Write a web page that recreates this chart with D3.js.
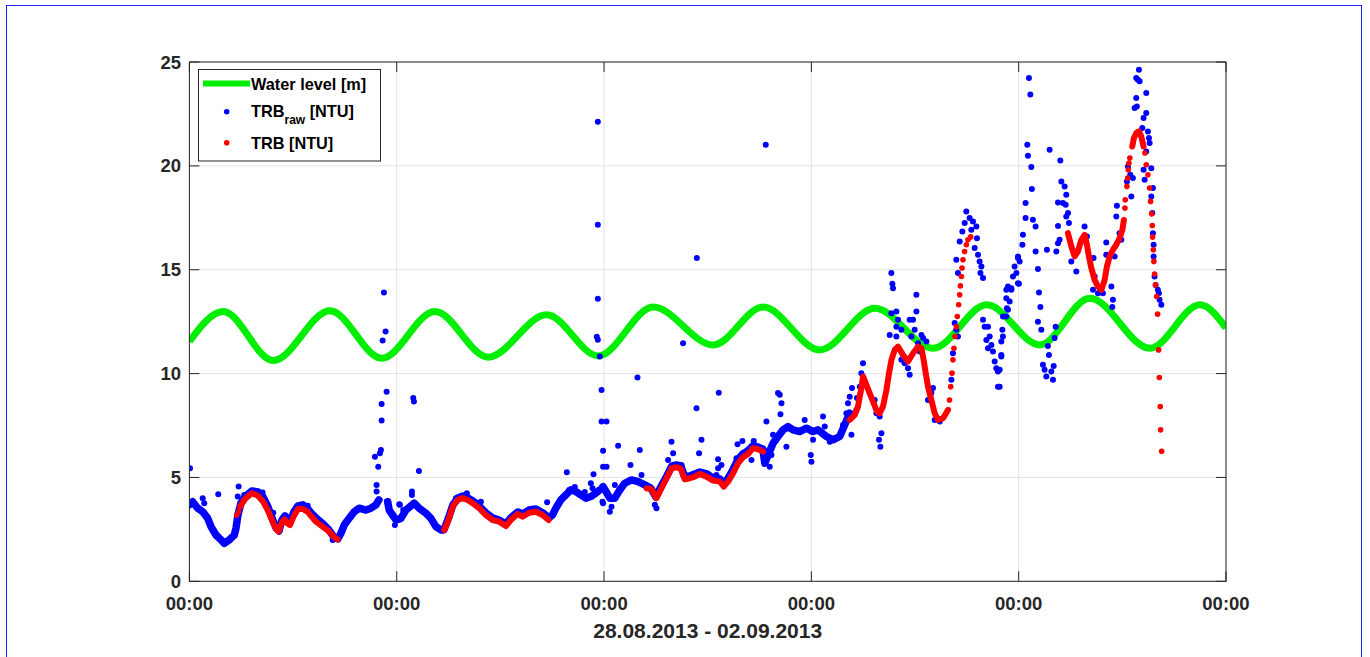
<!DOCTYPE html>
<html>
<head>
<meta charset="utf-8">
<script src="https://cdn.jsdelivr.net/npm/d3@7"></script>
<style>
  body { margin: 0; background: #fff; }
  svg { display: block; }
  text { font-family: "Liberation Sans", Arial, Helvetica, sans-serif; font-weight: bold; fill: #262626; }
</style>
</head>
<body>
<svg id="canvas" width="1370" height="657"></svg>
<script>
// all times are hours after 28.08.2013 00:00
const startDate = new Date(2013, 7, 28);
const endDate = new Date(2013, 8, 2);
const yTicks = [0, 5, 10, 15, 20, 25];
const xTitle = '28.08.2013 - 02.09.2013';

// water level [m], turning points of the tide curve
const waterLevel = [
    [0, 11.55], [3.92, 12.99], [9.71, 10.63], [16.27, 13.03], [22.26, 10.74], [28.43, 12.99],
    [34.59, 10.79], [41.35, 12.83], [47.33, 10.85], [53.69, 13.2], [60.64, 11.38], [66.42, 13.2],
    [72.99, 11.14], [79.35, 13.14], [86.1, 11.22], [92.31, 13.31], [98.45, 11.38], [104.24, 13.63],
    [111.19, 11.22], [116.99, 13.31], [120, 12.2]
];

// TRB raw, dense stretches
const rawTraceA = [
    [0, 3.68], [0.38, 3.83], [0.96, 3.52], [1.54, 3.35], [2.12, 3.03], [2.5, 2.63], [3.08, 2.23], [3.66, 1.99],
    [4.04, 1.83], [4.62, 1.99], [5.2, 2.23], [5.39, 2.55], [5.62, 3.19], [5.97, 3.77], [6.55, 4.11], [7.24, 4.35],
    [7.94, 4.3], [8.52, 4.06], [9.1, 3.58], [9.56, 3.05], [10.03, 2.57], [10.37, 2.42], [10.72, 2.95], [11.06, 3.15],
    [11.64, 2.86], [12.1, 3.34], [12.57, 3.63], [13.15, 3.68], [13.72, 3.48], [14.19, 3.24], [14.77, 3.0], [15.46, 2.76],
    [16.15, 2.47], [16.73, 2.13], [17.19, 2.04], [17.54, 2.31], [17.92, 2.71], [18.5, 3.03], [19.08, 3.35], [19.66, 3.52],
    [20.43, 3.43], [21.01, 3.52], [21.59, 3.68], [21.94, 3.92]
];
const rawTraceB = [
    [22.95, 3.83], [23.13, 3.43], [23.52, 3.19], [23.91, 2.95], [24.49, 3.03], [25.06, 3.43], [26.02, 3.76], [26.6, 3.52],
    [27.38, 3.28], [27.96, 3.03], [28.54, 2.63], [29.11, 2.47], [29.46, 2.47], [30.04, 3.1], [30.5, 3.68], [31.08, 4.01],
    [31.66, 4.11], [32.24, 4.01], [32.82, 3.87], [33.52, 3.63], [34.33, 3.29], [35.14, 3.05], [35.83, 2.95], [36.64, 2.76],
    [37.21, 3.05], [38.02, 3.34], [38.6, 3.24], [39.3, 3.43], [40.11, 3.48], [40.92, 3.29], [41.61, 3.05], [42.04, 3.2],
    [42.42, 3.52], [43.0, 3.92], [43.58, 4.16], [44.16, 4.4], [44.74, 4.32], [45.31, 4.16], [45.89, 4.0], [46.47, 4.08],
    [47.05, 4.24], [47.51, 4.4]
];
const rawTraceC = [
    [47.89, 4.56], [48.67, 4.0], [49.25, 4.0], [49.82, 4.4], [50.4, 4.72], [51.18, 4.88], [51.94, 4.8], [52.72, 4.64],
    [53.41, 4.49], [53.99, 4.06], [54.57, 4.54], [55.27, 5.07], [55.85, 5.55], [56.42, 5.6], [56.89, 5.55], [57.35, 5.02],
    [57.93, 5.07], [58.51, 5.17], [59.09, 5.26], [59.9, 5.17], [60.59, 4.98], [61.4, 4.93], [61.86, 4.69], [62.32, 4.93],
    [62.9, 5.36], [63.48, 5.84], [64.06, 6.13], [64.64, 6.28], [65.22, 6.52], [65.8, 6.47], [66.38, 6.37], [66.61, 5.68],
    [66.99, 6.08], [67.57, 6.65], [68.14, 6.97], [68.72, 7.29], [69.3, 7.45], [69.88, 7.29], [70.65, 7.21], [71.43, 7.37],
    [72.19, 7.21], [72.77, 7.29], [73.74, 6.97], [74.51, 6.81], [75.28, 6.97], [75.86, 7.53], [76.44, 8.09]
];

// TRB raw, single readings
const rawPoints = [
    [0.07, 5.44], [3.34, 4.19], [1.54, 4.0], [1.72, 3.76], [5.7, 4.56], [5.59, 4.08], [6.35, 4.16], [8.48, 4.27],
    [9.71, 3.3], [10.98, 2.95], [12.91, 3.68], [13.69, 3.64], [15.03, 2.87], [16.58, 1.99],
    [21.67, 4.64], [21.67, 4.32], [21.86, 5.52], [21.48, 6.0], [22.05, 6.17], [22.17, 6.32], [22.25, 7.74], [22.25, 8.53],
    [22.83, 9.13], [22.52, 13.9], [22.71, 12.02], [22.37, 11.59],
    [23.02, 3.83], [23.59, 3.19], [23.79, 2.71], [24.17, 2.95], [24.37, 3.68], [24.75, 3.43], [25.91, 8.82], [25.99, 8.65],
    [26.57, 5.31], [25.76, 4.32], [25.76, 4.16], [24.29, 3.71], [32.12, 4.24], [33.74, 3.83], [30.85, 4.0], [41.41, 3.81],
    [43.69, 5.25], [43.96, 4.4], [46.78, 5.15], [46.47, 4.72], [46.67, 4.48], [47.71, 4.48], [47.89, 6.28], [47.89, 5.52],
    [47.82, 3.83], [44.62, 4.54], [45.77, 4.3],
    [47.28, 22.12], [47.28, 17.16], [47.28, 13.6], [47.16, 11.77], [47.28, 11.63], [47.51, 10.82], [47.71, 9.21], [47.71, 7.69],
    [48.29, 7.69], [48.29, 5.52], [49.63, 6.53], [51.87, 9.81], [52.14, 6.32], [51.06, 5.6], [57.15, 11.46], [58.7, 8.33],
    [61.28, 9.08], [59.28, 6.81], [59.0, 6.17], [55.81, 6.72], [56.0, 6.17], [63.45, 6.6], [64.02, 6.76], [58.74, 15.57],
    [66.72, 21.02], [68.14, 9.06], [68.34, 8.98], [68.54, 8.57], [68.42, 8.04], [66.8, 7.69], [52.34, 5.12], [55.41, 5.84],
    [61.2, 5.88], [65.33, 6.76], [71.23, 7.77], [72.01, 5.76], [71.93, 6.08], [69.11, 6.48], [67.56, 7.05], [72.19, 6.81],
    [47.89, 3.76], [48.67, 3.35], [49.25, 4.64], [48.87, 3.59], [54.07, 3.52], [53.88, 3.68], [56.96, 5.6], [61.01, 5.12],
    [61.2, 5.44], [61.59, 5.6], [63.33, 5.92], [65.07, 5.84], [67.18, 5.52], [66.8, 6.24], [67.38, 6.08],
    [73.35, 7.93], [73.55, 7.45], [74.13, 6.72], [74.7, 6.89], [75.66, 7.53], [76.06, 8.09], [76.24, 8.57], [76.44, 8.89],
    [76.71, 9.3], [76.64, 7.05], [77.21, 8.25], [77.28, 8.82], [77.6, 9.37], [77.79, 10.02], [77.98, 10.5], [79.33, 8.73],
    [79.53, 8.09], [79.91, 7.93], [80.11, 7.13], [79.83, 6.81], [79.99, 6.48], [81.26, 14.84], [81.38, 14.32], [81.45, 14.11],
    [81.26, 12.91], [81.84, 12.99], [82.03, 12.59], [81.84, 12.26], [81.07, 11.86], [81.84, 11.78], [82.42, 12.11], [82.42, 10.66],
    [82.8, 10.5], [83.19, 10.26], [83.38, 9.94], [83.38, 12.59], [83.77, 12.59], [83.96, 12.11], [84.16, 12.99], [84.16, 13.79],
    [84.74, 11.86], [84.93, 11.71], [85.32, 11.54], [84.35, 11.46], [84.55, 11.06], [83.58, 11.78], [85.5, 8.73], [85.89, 9.06],
    [86.08, 9.3], [86.28, 7.77], [86.86, 7.69], [88.21, 9.7], [88.39, 10.98], [88.59, 12.43], [88.78, 12.11], [88.97, 11.78],
    [88.78, 15.48], [88.97, 14.84], [89.17, 16.36], [89.48, 16.84], [89.75, 17.25], [89.94, 17.8], [90.32, 17.49], [90.52, 16.92],
    [90.71, 17.32], [91.1, 17.08], [91.17, 16.52], [90.9, 16.04], [91.29, 15.72], [91.48, 15.4], [91.68, 15.15], [91.87, 14.6],
    [91.57, 14.84], [91.87, 12.59], [92.06, 12.26], [92.45, 12.26], [92.26, 11.62], [92.64, 11.78], [92.84, 11.38], [92.45, 11.22],
    [93.02, 11.06], [93.22, 10.58], [93.41, 10.26], [93.6, 10.1], [93.8, 10.18], [93.6, 9.37], [93.99, 10.9], [94.18, 11.78],
    [94.57, 12.75], [94.76, 13.07], [94.57, 13.63], [94.76, 14.19], [95.15, 14.11], [95.34, 14.67], [95.53, 15.15], [95.92, 15.56],
    [95.92, 14.35],
    [97.19, 24.23], [97.35, 23.43], [97.0, 21.02], [97.07, 20.49], [97.46, 19.94], [97.53, 18.88], [96.8, 18.21], [96.8, 17.49],
    [97.65, 17.4], [97.96, 17.08], [96.49, 16.68], [96.43, 16.2], [95.92, 15.64], [96.11, 15.4], [95.73, 14.84], [96.03, 14.32],
    [95.15, 14.03], [94.57, 14.03], [94.95, 13.47], [94.64, 13.15], [94.18, 12.75], [94.11, 12.11], [93.99, 11.54], [93.99, 10.82],
    [93.8, 9.37], [97.96, 15.88], [98.23, 15.03], [98.35, 13.9], [98.51, 13.2], [98.23, 12.5], [98.62, 12.11], [99.38, 11.33],
    [99.5, 10.9], [98.81, 10.42], [99.0, 10.18], [99.2, 9.86], [99.78, 10.1], [99.97, 9.7], [100.05, 10.37], [100.28, 12.26],
    [100.16, 11.71], [99.27, 15.96], [99.58, 20.78], [100.82, 20.26], [100.94, 19.25], [101.32, 19.01], [101.51, 18.61], [100.55, 18.24],
    [101.13, 18.21], [101.44, 18.13], [101.71, 17.73], [101.51, 17.56], [101.82, 17.25], [100.55, 17.11], [100.74, 16.44], [100.36, 15.88],
    [100.55, 16.28], [102.09, 15.4], [102.67, 14.91], [103.63, 17.08], [103.9, 16.6], [104.67, 15.56], [104.79, 14.67], [104.6, 14.03],
    [105.18, 13.87], [105.75, 13.87], [106.14, 16.31], [106.14, 15.72], [106.45, 15.64], [106.73, 14.19], [107.11, 15.64], [107.3, 17.56],
    [107.37, 18.08], [107.68, 16.76], [107.88, 16.44], [106.91, 13.55], [106.84, 13.2], [108.65, 19.97], [108.53, 19.25], [108.92, 19.57],
    [109.04, 18.53], [109.22, 19.41], [109.42, 22.78], [109.61, 23.27], [109.68, 22.86], [109.61, 24.23], [109.8, 24.15], [110.0, 24.07],
    [109.92, 24.63], [110.77, 23.51], [110.77, 22.54], [110.46, 22.3], [110.31, 21.82], [110.96, 21.66], [111.08, 21.34], [111.16, 21.1],
    [110.77, 20.69], [111.35, 19.89], [110.46, 19.81], [110.58, 19.33], [111.54, 18.93], [111.35, 18.53], [111.47, 17.73], [111.54, 16.76],
    [111.62, 16.2], [111.62, 15.64], [111.73, 14.67], [111.85, 14.27], [112.11, 14.03], [112.23, 13.87], [112.31, 13.55], [112.51, 13.31]
];

// TRB (corrected), dense stretches
const trbTrace1 = [
    [5.86, 3.59], [6.43, 3.96], [7.21, 4.24], [7.9, 4.13], [8.55, 3.83], [9.06, 3.43], [9.56, 2.95], [10.02, 2.52],
    [10.33, 2.4], [10.68, 2.81], [11.0, 2.98], [11.29, 2.81], [11.64, 2.71], [12.1, 3.15], [12.57, 3.48], [13.14, 3.48],
    [13.69, 3.34], [14.15, 3.11], [14.65, 2.87], [15.42, 2.63], [16.19, 2.39], [16.77, 2.11], [17.16, 2.02]
];
const trbTrace2 = [
    [29.5, 2.47], [30.07, 3.03], [30.47, 3.59], [31.05, 3.92], [31.62, 4.0], [32.2, 3.92], [32.78, 3.76], [33.55, 3.52],
    [34.32, 3.19], [35.1, 2.95], [35.86, 2.87], [36.64, 2.66], [37.21, 2.95], [37.99, 3.24], [38.57, 3.11], [39.33, 3.3],
    [40.11, 3.35], [40.88, 3.19], [41.58, 2.95]
];
const trbTrace3 = [
    [52.92, 4.48], [53.49, 4.43], [54.07, 4.0], [54.65, 4.48], [55.23, 4.96], [55.81, 5.44], [56.39, 5.49], [56.85, 5.44],
    [57.35, 4.91], [57.93, 4.96], [58.51, 5.04], [59.08, 5.17], [59.86, 5.04], [60.62, 4.85], [61.4, 4.8], [61.86, 4.56],
    [62.36, 4.8], [62.94, 5.2], [63.51, 5.68], [64.09, 5.97], [64.67, 6.13], [65.25, 6.41], [65.83, 6.36], [66.41, 6.24]
];
const trbTrace4 = [
    [76.44, 7.77], [77.02, 8.01], [77.4, 8.41], [77.6, 8.89], [77.79, 9.3], [77.98, 9.86], [78.37, 9.46], [78.75, 9.06],
    [79.14, 8.65], [79.6, 8.17], [79.91, 8.09], [80.29, 8.41], [80.69, 9.21], [80.99, 10.02], [81.27, 10.66], [81.65, 11.14],
    [82.03, 11.3], [82.61, 10.9], [83.19, 10.58], [83.77, 10.98], [84.35, 11.3], [84.74, 11.22], [85.0, 10.66], [85.24, 10.02],
    [85.5, 9.37], [85.89, 8.73], [86.28, 8.09], [86.66, 7.77], [87.24, 7.85], [87.82, 8.25]
];
const trbTrace5 = [
    [101.7, 16.76], [102.1, 16.12], [102.48, 15.64], [102.86, 15.88], [103.25, 16.44], [103.63, 16.68], [103.9, 16.2], [104.13, 15.64],
    [104.41, 15.08], [104.79, 14.51], [105.17, 14.19], [105.57, 14.03], [105.95, 14.51], [106.21, 15.15], [106.53, 15.64], [106.91, 15.96],
    [107.3, 16.2], [107.68, 16.52], [108.0, 16.92], [108.18, 17.4]
];
const trbTrace6 = [
    [109.15, 20.93], [109.34, 21.34], [109.62, 21.58], [109.92, 21.66], [110.19, 21.42], [110.46, 20.93]
];

// TRB (corrected), single readings on the steep parts
const trbPoints = [
    [5.47, 3.19], [5.7, 3.35],
    [87.99, 8.73], [88.13, 9.37], [88.28, 10.02], [88.39, 10.66], [88.51, 11.22], [88.63, 11.78], [88.79, 12.26], [88.9, 12.75],
    [89.05, 13.31], [89.17, 13.79], [89.25, 14.22], [89.37, 14.67], [89.44, 15.08], [89.55, 15.48], [89.74, 15.88], [89.94, 16.2],
    [90.13, 16.44], [90.44, 16.58],
    [108.3, 17.97], [108.34, 18.37], [108.53, 19.01], [108.61, 19.41], [108.69, 19.81], [108.76, 20.13], [108.87, 20.38],
    [110.61, 20.62], [110.77, 20.05], [110.96, 19.57], [111.15, 18.93], [111.27, 18.29], [111.39, 17.69], [111.47, 17.13], [111.5, 16.57],
    [111.58, 15.96], [111.65, 15.4], [111.73, 14.79], [111.85, 14.27], [111.97, 13.71], [112.08, 12.86], [112.2, 11.14], [112.28, 9.81],
    [112.39, 8.41], [112.43, 7.29], [112.55, 6.26]
];

const rawTraces = [rawTraceA, rawTraceB, rawTraceC];
const trbTraces = [trbTrace1, trbTrace2, trbTrace3, trbTrace4, trbTrace5, trbTrace6];

const svg = d3.select('#canvas');
const margin = { left: 189.4, right: 1226, top: 62, bottom: 581.3 };
const axisColor = '#262626';
const gridColor = '#e3e3e3';

const hoursToDate = h => new Date(+startDate + h * 3600e3);

const x = d3.scaleTime()
    .domain([startDate, endDate])
    .range([margin.left, margin.right]);
const y = d3.scaleLinear()
    .domain([0, 25])
    .range([margin.bottom, margin.top]);

const xTicks = d3.timeDay.range(startDate, d3.timeDay.offset(endDate, 1));

// outer frame
svg.append('rect')
    .attr('x', 6.5).attr('y', 5.5)
    .attr('width', 1355).attr('height', 700)
    .attr('fill', 'none').attr('stroke', '#1f1fff').attr('stroke-width', 1);

svg.append('clipPath').attr('id', 'plot-clip')
    .append('rect')
    .attr('x', margin.left).attr('y', margin.top)
    .attr('width', margin.right - margin.left).attr('height', margin.bottom - margin.top);

// grid
const grid = svg.append('g');
grid.selectAll('.gy').data(yTicks).enter().append('line')
    .attr('x1', margin.left).attr('x2', margin.right)
    .attr('y1', d => y(d)).attr('y2', d => y(d))
    .attr('stroke', gridColor);
grid.selectAll('.gx').data(xTicks).enter().append('line')
    .attr('x1', d => x(d)).attr('x2', d => x(d))
    .attr('y1', margin.top).attr('y2', margin.bottom)
    .attr('stroke', gridColor);

const plot = svg.append('g').attr('clip-path', 'url(#plot-clip)');
const line = d3.line()
    .x(d => x(hoursToDate(d[0])))
    .y(d => y(d[1]));

// water level
plot.append('path')
    .datum(waterLevel)
    .attr('d', line.curve(d3.curveMonotoneX))
    .attr('fill', 'none')
    .attr('stroke', '#00ee00')
    .attr('stroke-width', 7);

line.curve(d3.curveLinear);

// raw turbidity
plot.selectAll('.raw-trace').data(rawTraces).enter().append('path')
    .attr('d', line)
    .attr('fill', 'none')
    .attr('stroke', '#0000ff')
    .attr('stroke-width', 7.5)
    .attr('stroke-linejoin', 'round')
    .attr('stroke-linecap', 'round');
plot.selectAll('.raw-pt').data(rawPoints).enter().append('circle')
    .attr('cx', d => x(hoursToDate(d[0])))
    .attr('cy', d => y(d[1]))
    .attr('r', 3)
    .attr('fill', '#0000ff');

// corrected turbidity
plot.selectAll('.trb-trace').data(trbTraces).enter().append('path')
    .attr('d', line)
    .attr('fill', 'none')
    .attr('stroke', '#ff0000')
    .attr('stroke-width', 6)
    .attr('stroke-linejoin', 'round')
    .attr('stroke-linecap', 'round');
plot.selectAll('.trb-pt').data(trbPoints).enter().append('circle')
    .attr('cx', d => x(hoursToDate(d[0])))
    .attr('cy', d => y(d[1]))
    .attr('r', 2.8)
    .attr('fill', '#ff0000');

// axes box with inward ticks on all sides
const box = svg.append('g');
box.append('rect')
    .attr('x', margin.left).attr('y', margin.top)
    .attr('width', margin.right - margin.left).attr('height', margin.bottom - margin.top)
    .attr('fill', 'none').attr('stroke', axisColor).attr('stroke-width', 1);

const tickLen = 10;
yTicks.forEach(v => {
    box.append('line').attr('x1', margin.left).attr('x2', margin.left + tickLen)
        .attr('y1', y(v)).attr('y2', y(v)).attr('stroke', axisColor);
    box.append('line').attr('x1', margin.right).attr('x2', margin.right - tickLen)
        .attr('y1', y(v)).attr('y2', y(v)).attr('stroke', axisColor);
});
xTicks.forEach(d => {
    box.append('line').attr('x1', x(d)).attr('x2', x(d))
        .attr('y1', margin.bottom).attr('y2', margin.bottom - tickLen).attr('stroke', axisColor);
    box.append('line').attr('x1', x(d)).attr('x2', x(d))
        .attr('y1', margin.top).attr('y2', margin.top + tickLen).attr('stroke', axisColor);
});

// tick labels
svg.selectAll('.ylab').data(yTicks).enter().append('text')
    .attr('x', 181)
    .attr('y', d => y(d) + 6.5)
    .attr('text-anchor', 'end')
    .style('font-size', '18.5px')
    .text(d => d);

const fmt = d3.timeFormat('%H:%M');
svg.selectAll('.xlab').data(xTicks).enter().append('text')
    .attr('x', d => x(d))
    .attr('y', 609.5)
    .attr('text-anchor', 'middle')
    .style('font-size', '18.5px')
    .text(d => fmt(d));

svg.append('text')
    .attr('x', (margin.left + margin.right) / 2)
    .attr('y', 638)
    .attr('text-anchor', 'middle')
    .style('font-size', '21px')
    .text(xTitle);

// legend
const legend = svg.append('g');
legend.append('rect')
    .attr('x', 198.5).attr('y', 69.5)
    .attr('width', 182).attr('height', 91.5)
    .attr('fill', '#fff').attr('stroke', axisColor).attr('stroke-width', 1);
legend.append('line')
    .attr('x1', 203).attr('x2', 250).attr('y1', 83.5).attr('y2', 83.5)
    .attr('stroke', '#00ee00').attr('stroke-width', 6);
legend.append('text').attr('x', 251).attr('y', 89.5)
    .style('font-size', '16.3px').style('fill', '#000').text('Water level [m]');
legend.append('circle').attr('cx', 226.7).attr('cy', 111.7).attr('r', 2.8).attr('fill', '#0000ff');
const rawLabel = legend.append('text').attr('x', 251).attr('y', 117)
    .style('font-size', '16.3px').style('fill', '#000');
rawLabel.append('tspan').text('TRB');
rawLabel.append('tspan').attr('dy', 7).style('font-size', '12px').text('raw');
rawLabel.append('tspan').attr('dy', -7).text(' [NTU]');
legend.append('circle').attr('cx', 226.7).attr('cy', 142.7).attr('r', 2.8).attr('fill', '#ff0000');
legend.append('text').attr('x', 251).attr('y', 148.5)
    .style('font-size', '16.3px').style('fill', '#000').text('TRB [NTU]');
</script>
</body>
</html>
